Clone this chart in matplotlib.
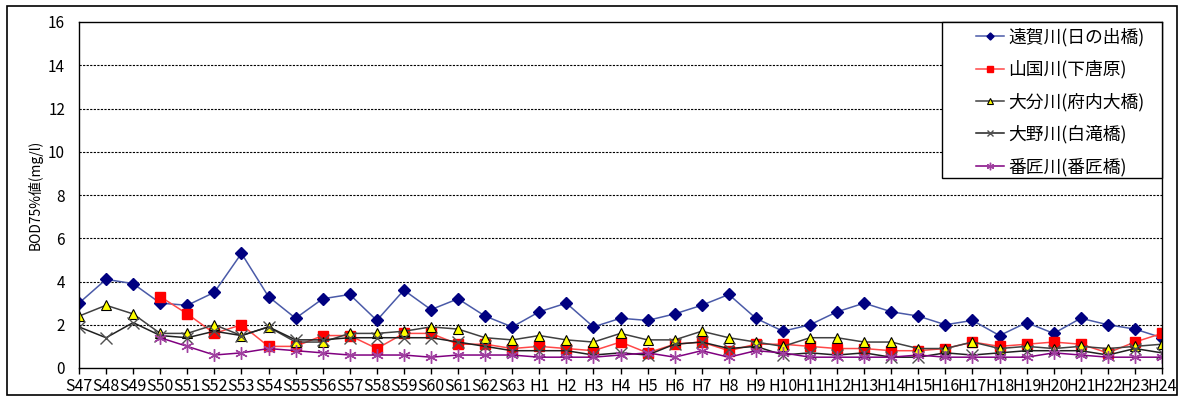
import matplotlib
matplotlib.use('Agg')
import matplotlib.pyplot as plt
from matplotlib.patches import Rectangle
import numpy as np

plt.rcParams['font.family'] = ['Noto Sans CJK JP', 'DejaVu Sans']

# 年度ラベル
years = ['S%d' % n for n in range(47, 64)] + ['H%d' % n for n in range(1, 25)]

# BOD75%値 (mg/l)
onga = [3.0, 4.1, 3.9, 3.0, 2.9, 3.5, 5.3, 3.3, 2.3, 3.2, 3.4, 2.2, 3.6, 2.7, 3.2, 2.4, 1.9,
        2.6, 3.0, 1.9, 2.3, 2.2, 2.5, 2.9, 3.4, 2.3, 1.7, 2.0, 2.6, 3.0, 2.6, 2.4, 2.0,
        2.2, 1.5, 2.1, 1.6, 2.3, 2.0, 1.8, 1.4]
yamakuni = [None, None, None, 3.3, 2.5, 1.6, 2.0, 1.0, 1.0, 1.5, 1.5, 0.9, 1.6, 1.6, 1.1, 1.1, 0.9,
            1.0, 0.9, 0.8, 1.2, 0.7, 1.1, 1.2, 0.8, 1.1, 1.1, 1.0, 0.9, 0.9, 0.8, 0.8, 0.9,
            1.2, 1.0, 1.1, 1.2, 1.1, 0.7, 1.2, 1.6]
oita = [2.4, 2.9, 2.5, 1.6, 1.6, 2.0, 1.5, 1.9, 1.2, 1.2, 1.6, 1.6, 1.7, 1.9, 1.8, 1.4, 1.3,
        1.5, 1.3, 1.2, 1.6, 1.3, 1.3, 1.7, 1.4, 1.2, 1.0, 1.4, 1.4, 1.2, 1.2, 0.9, 0.9,
        1.2, 0.9, 1.0, 0.9, 1.0, 0.9, 1.0, 1.1]
ono = [1.9, 1.4, 2.1, 1.5, 1.4, 1.7, 1.5, 1.9, 1.3, 1.3, 1.4, 1.4, 1.4, 1.4, 1.2, 1.0, 0.8,
       0.8, 0.8, 0.6, 0.7, 0.6, 1.1, 1.2, 0.9, 1.0, 0.6, 0.7, 0.6, 0.7, 0.5, 0.5, 0.7,
       0.6, 0.7, 0.8, 0.8, 0.8, 0.6, 0.9, 0.7]
bansho = [None, None, None, 1.4, 1.0, 0.6, 0.7, 0.9, 0.8, 0.7, 0.6, 0.6, 0.6, 0.5, 0.6, 0.6, 0.6,
          0.5, 0.5, 0.5, 0.6, 0.7, 0.5, 0.8, 0.5, 0.8, 0.7, 0.5, 0.5, 0.5, 0.5, 0.6, 0.5,
          0.5, 0.5, 0.5, 0.7, 0.6, 0.5, 0.5, 0.5]

labels = ['遠賀川(日の出橋)', '山国川(下唐原)', '大分川(府内大橋)', '大野川(白滝橋)', '番匠川(番匠橋)']

def arr(v):
    return np.array([np.nan if a is None else a for a in v], dtype=float)

W, H = 1183, 401
x = np.arange(len(years))

fig = plt.figure(figsize=(W/100, H/100), dpi=100)
ax = fig.add_axes([79/W, 1 - 368/H, (1162 - 79)/W, (368 - 22)/H])

# 外枠
fig.patches.append(Rectangle((7/W, 6/H), 1170/W, 389/H, transform=fig.transFigure,
                             fill=False, edgecolor='black', linewidth=1.2))

ax.plot(x, arr(onga), color='#4a5aa8', lw=1.1, marker='D', ms=6,
        mfc='#000080', mec='#000080', label=labels[0])
ax.plot(x, arr(yamakuni), color='#ff4848', lw=1.1, marker='s', ms=7,
        mfc='#ff0000', mec='#ff0000', label=labels[1])
ax.plot(x, arr(oita), color='#404040', lw=1.1, marker='^', ms=7,
        mfc='#ffff00', mec='#000000', mew=0.8, label=labels[2])
ax.plot(x, arr(ono), color='#202020', lw=1.1, marker='x', ms=8,
        mec='#505050', mew=1.0, label=labels[3])
ax.plot(x, arr(bansho), color='#800080', lw=1.1, marker=(6, 2, 0), ms=9,
        mec='#a040a0', mew=1.0, label=labels[4])

ax.set_xlim(0, len(years) - 1)
ax.set_ylim(0, 16)
ax.set_yticks(np.arange(0, 17, 2))
ax.set_xticks(x)
ax.set_xticklabels(years)
ax.tick_params(axis='x', length=4, width=1, pad=3, labelsize=11.5)
ax.tick_params(axis='y', length=0, pad=10, labelsize=11)

for yv in range(2, 16, 2):
    ax.axhline(yv, color='black', lw=0.8, ls=(0, (2, 1.2)), zorder=0)

for s in ax.spines.values():
    s.set_color('black')
    s.set_linewidth(1.0)

ax.set_ylabel('BOD75%値(mg/l)', fontsize=10, labelpad=4)

# 凡例（枠は別に描く）
box = Rectangle((942/W, 1 - 178/H), 220/W, 156/H, transform=fig.transFigure,
                facecolor='white', edgecolor='black', linewidth=1.0, zorder=10)
fig.patches.append(box)
handles, _ = ax.get_legend_handles_labels()
leg = fig.legend(handles, labels, loc='upper left', bbox_to_anchor=(976/W, 1 - 28/H),
                 frameon=False, fontsize=12.8, borderpad=0, borderaxespad=0,
                 handlelength=1.55, handletextpad=0.25, labelspacing=0.78,
                 markerscale=0.6)
leg.set_zorder(11)

fig.savefig('out.png', dpi=100)
